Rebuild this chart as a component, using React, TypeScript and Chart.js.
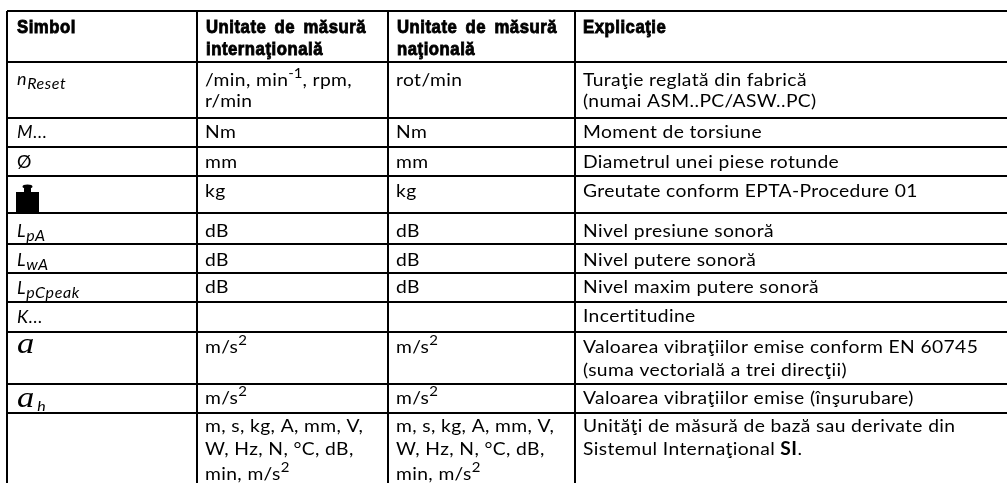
import React, { useEffect, useRef } from "react";
import { Chart, registerables } from "chart.js";

Chart.register(...registerables);

const columnEdges = [7, 197, 388, 575];
const rowEdges = [11, 62, 118, 147, 176, 213, 244, 273, 302, 332, 384, 413];
const headers = [["Simbol"], ["Unitate de măsură", "internaţională"], ["Unitate de măsură", "naţională"], ["Explicaţie"]];
const symbols = ["n_{Reset}", "M...", "Ø", "", "L_{pA}", "L_{wA}", "L_{pCpeak}", "K...", "", "", ""];
const serifSymbols = ["", "", "", "", "", "", "", "", "a", "a\u200a_{h}", ""];
const intlUnits = [
  ["/min, min^{-1}, rpm,", "r/min"], ["Nm"], ["mm"], ["kg"], ["dB"], ["dB"], ["dB"], [""], ["m/s^{2}"], ["m/s^{2}"],
  ["m, s, kg, A, mm, V,", "W, Hz, N, °C, dB,", "min, m/s^{2}"],
];
const natUnits = [
  ["rot/min"], ["Nm"], ["mm"], ["kg"], ["dB"], ["dB"], ["dB"], [""], ["m/s^{2}"], ["m/s^{2}"],
  ["m, s, kg, A, mm, V,", "W, Hz, N, °C, dB,", "min, m/s^{2}"],
];
const explanations = [
  ["Turaţie reglată din fabrică", "(numai ASM..PC/ASW..PC)"],
  ["Moment de torsiune"],
  ["Diametrul unei piese rotunde"],
  ["Greutate conform EPTA-Procedure 01"],
  ["Nivel presiune sonoră"],
  ["Nivel putere sonoră"],
  ["Nivel maxim putere sonoră"],
  ["Incertitudine"],
  ["Valoarea vibraţiilor emise conform EN 60745", "(suma vectorială a trei direcţii)"],
  ["Valoarea vibraţiilor emise (înşurubare)"],
  ["Unităţi de măsură de bază sau derivate din", "Sistemul Internaţional *{SI}."],
];
const headerBaselines = [33, 55];
const symbolBaselines = [85, 138, 168, 0, 237, 266, 294, 323, 353, 407, 0];
const rowBaselines = [
  [86, 107], [138], [168], [197], [237], [266], [293], [322], [353], [404], [432, 455, 480],
];
const explanationBaselines = [
  [86, 107], [138], [168], [197], [237], [266], [293], [322], [353, 376], [404], [432, 455],
];
const headerInsets = [10, 9, 9, 8];
const textInsets = [10, 8, 8, 8];
const weightIconRow = 3;

const SANS = "Lato";
const BODY_SIZE = 18;
const BODY_SPACING = 0.35;
const BODY_STRETCH = 1.07;
const HEAD = "'Liberation Sans'";
const HEAD_SCALE = 0.88;

function drawRich(ctx: any, text: string, x: number, y: number, size: number, style: string, family: string, spacing: number, stretch: number) {
  const re = /([_^*])\{([^}]*)\}/g;
  const parts: { t: string; k: string }[] = [];
  let last = 0;
  let m: RegExpExecArray | null;
  while ((m = re.exec(text))) {
    if (m.index > last) parts.push({ t: text.slice(last, m.index), k: "" });
    parts.push({ t: m[2], k: m[1] });
    last = m.index + m[0].length;
  }
  if (last < text.length) parts.push({ t: text.slice(last), k: "" });
  ctx.save();
  ctx.translate(x, y);
  ctx.scale(stretch, 1);
  let cx = 0;
  for (const p of parts) {
    let s = size;
    let dy = 0;
    let weight = "";
    let fam = family;
    let ls = spacing;
    if (p.k === "^") { s = 14; dy = -8; fam = SANS; ls = 0; }
    if (p.k === "_") { s = 16 / stretch; dy = 4; fam = SANS; ls = 0.6; }
    if (p.k === "*") { weight = "bold "; }
    ctx.font = `${style} ${weight}${s}px ${fam}`;
    ctx.letterSpacing = `${ls}px`;
    ctx.fillText(p.t, cx, dy);
    cx += ctx.measureText(p.t).width;
  }
  ctx.restore();
}

const tablePlugin = {
  id: "tablePlugin",
  afterDraw(chart: any) {
    const { ctx, scales } = chart;
    const X = (v: number) => scales.x.getPixelForValue(v);
    const Y = (v: number) => scales.y.getPixelForValue(v);
    ctx.save();
    ctx.fillStyle = "#000";
    ctx.strokeStyle = "#000";
    ctx.textBaseline = "alphabetic";
    ctx.textAlign = "left";
    headers.forEach((lines, c) => {
      lines.forEach((line, i) => {
        ctx.save();
        ctx.font = `bold 19px ${HEAD}`;
        ctx.lineWidth = 0.9;
        ctx.letterSpacing = "0.6px";
        ctx.wordSpacing = "3.5px";
        ctx.translate(X(columnEdges[c] + headerInsets[c]), Y(headerBaselines[i]));
        ctx.scale(HEAD_SCALE, 1);
        ctx.fillText(line, 0, 0);
        ctx.strokeText(line, 0, 0);
        ctx.restore();
      });
    });
    symbols.forEach((sym, r) => {
      if (sym) drawRich(ctx, sym, X(columnEdges[0] + textInsets[0]), Y(symbolBaselines[r]), 18, sym === "Ø" ? "normal" : "italic", SANS, 0.6, 1);
      const ser = serifSymbols[r];
      if (ser) drawRich(ctx, ser, X(columnEdges[0] + textInsets[0]), Y(symbolBaselines[r]), 30, "italic", "'Liberation Serif'", 0, 1.15);
    });
    intlUnits.forEach((lines, r) => lines.forEach((l, i) => drawRich(ctx, l, X(columnEdges[1] + textInsets[1]), Y(rowBaselines[r][i]), BODY_SIZE, "normal", SANS, BODY_SPACING, BODY_STRETCH)));
    natUnits.forEach((lines, r) => lines.forEach((l, i) => drawRich(ctx, l, X(columnEdges[2] + textInsets[2]), Y(rowBaselines[r][i]), BODY_SIZE, "normal", SANS, BODY_SPACING, BODY_STRETCH)));
    explanations.forEach((lines, r) => lines.forEach((l, i) => drawRich(ctx, l, X(columnEdges[3] + textInsets[3]), Y(explanationBaselines[r][i]), BODY_SIZE, "normal", SANS, BODY_SPACING, BODY_STRETCH)));

    // weight glyph for the "mass" row
    const left = X(columnEdges[0] + 9);
    const bottom = Y(rowEdges[weightIconRow + 2] - 1);
    ctx.beginPath();
    ctx.rect(left, bottom - 20, 23, 20);
    ctx.rect(left + 8, bottom - 25, 7, 6);
    ctx.ellipse(left + 11.5, bottom - 25.5, 5, 2, 0, 0, Math.PI * 2);
    ctx.fill();
    ctx.restore();
  },
};

export default function App() {
  const ref = useRef<HTMLCanvasElement | null>(null);
  useEffect(() => {
    const chart = new Chart(ref.current as HTMLCanvasElement, {
      type: "scatter",
      data: { datasets: [{ data: [] }] },
      options: {
        animation: false,
        responsive: false,
        layout: { padding: { left: 7, top: 11, right: 0, bottom: 0 } },
        plugins: { legend: { display: false }, tooltip: { enabled: false } },
        scales: {
          x: {
            type: "linear", min: 7, max: 1007,
            afterBuildTicks: (s: any) => { s.ticks = columnEdges.map((value) => ({ value })); },
            ticks: { display: false },
            border: { display: false },
            grid: { color: "#000", lineWidth: 2, drawTicks: false },
          },
          y: {
            type: "linear", min: 11, max: 483, reverse: true,
            afterBuildTicks: (s: any) => { s.ticks = rowEdges.map((value) => ({ value })); },
            ticks: { display: false },
            border: { display: false },
            grid: { color: "#000", lineWidth: 2, drawTicks: false },
          },
        },
      },
      plugins: [tablePlugin],
    } as any);
    return () => chart.destroy();
  }, []);
  return (
    <div style={{ position: "fixed", left: 0, top: 0, width: 1007, height: 483, background: "#fff" }}>
      <canvas ref={ref} width={1007} height={483} style={{ display: "block" }} />
    </div>
  );
}
